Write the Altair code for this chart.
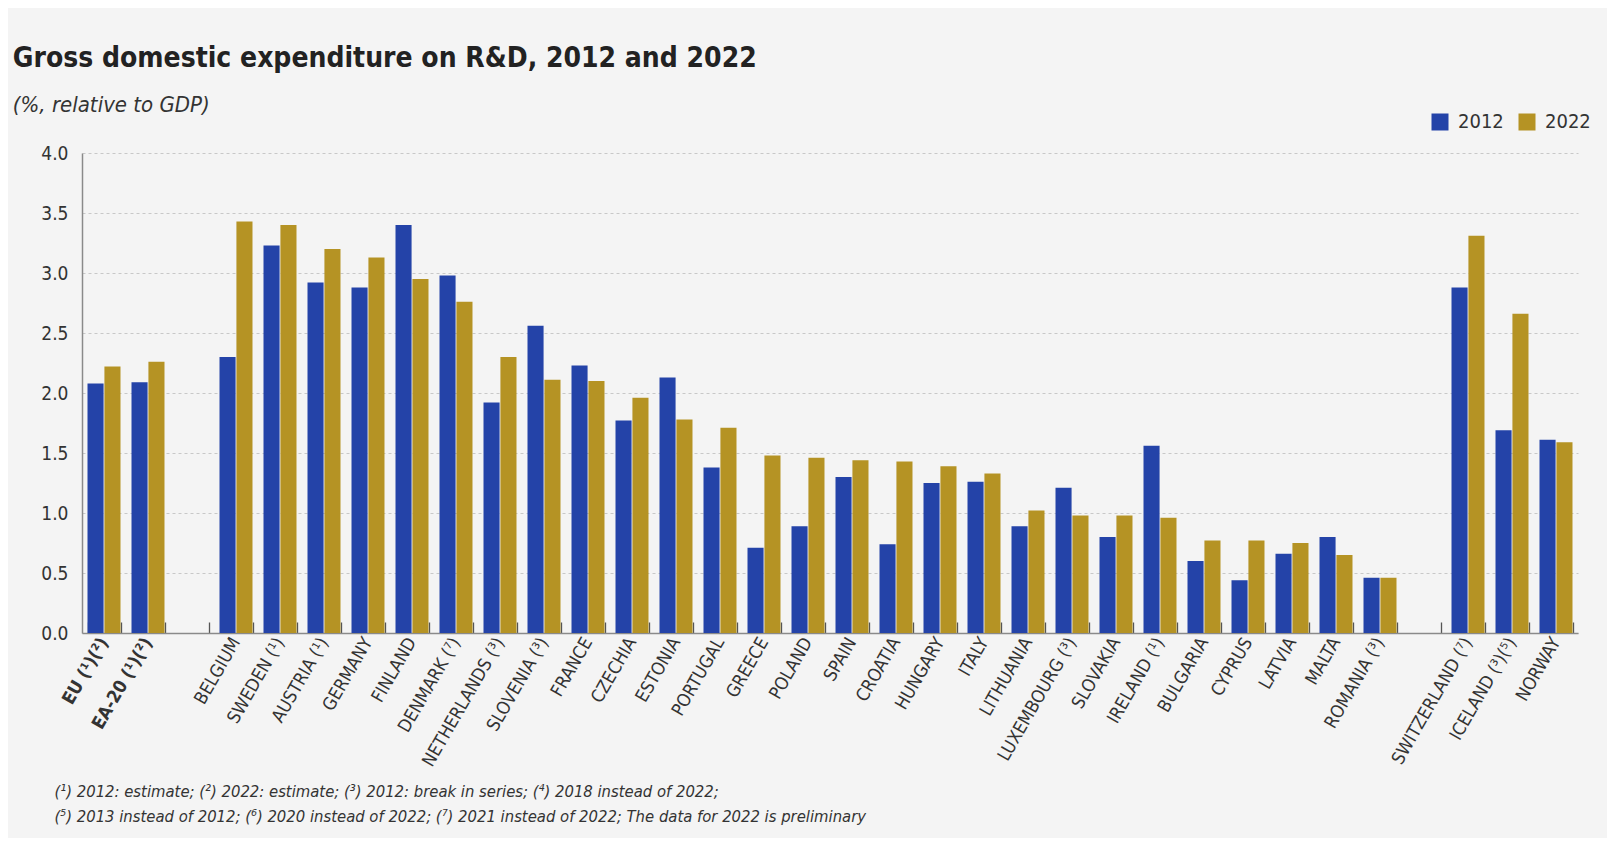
import altair as alt
import pandas as pd

countries = ["EU (¹)(²)", "EA-20 (¹)(²)", "BELGIUM", "SWEDEN (¹)", "AUSTRIA (¹)", "GERMANY",
             "FINLAND", "DENMARK (⁷)", "NETHERLANDS (³)", "SLOVENIA (³)", "FRANCE", "CZECHIA",
             "ESTONIA", "PORTUGAL", "GREECE", "POLAND", "SPAIN", "CROATIA", "HUNGARY", "ITALY",
             "LITHUANIA", "LUXEMBOURG (³)", "SLOVAKIA", "IRELAND (¹)", "BULGARIA", "CYPRUS",
             "LATVIA", "MALTA", "ROMANIA (³)", "SWITZERLAND (⁷)", "ICELAND (³)(⁵)", "NORWAY"]
v2012 = [2.08, 2.09, 2.30, 3.23, 2.92, 2.88, 3.40, 2.98, 1.92, 2.56, 2.23, 1.77, 2.13, 1.38,
         0.71, 0.89, 1.30, 0.74, 1.25, 1.26, 0.89, 1.21, 0.80, 1.56, 0.60, 0.44, 0.66, 0.80,
         0.46, 2.88, 1.69, 1.61]
v2022 = [2.22, 2.26, 3.43, 3.40, 3.20, 3.13, 2.95, 2.76, 2.30, 2.11, 2.10, 1.96, 1.78, 1.71,
         1.48, 1.46, 1.44, 1.43, 1.39, 1.33, 1.02, 0.98, 0.98, 0.96, 0.77, 0.77, 0.75, 0.65,
         0.46, 3.31, 2.66, 1.59]
years = ["2012", "2022"]
y_ticks = [0.0, 0.5, 1.0, 1.5, 2.0, 2.5, 3.0, 3.5, 4.0]

title_text = "Gross domestic expenditure on R&D, 2012 and 2022"
subtitle_text = "(%, relative to GDP)"
footnotes = [
    "(¹) 2012: estimate; (²) 2022: estimate; (³) 2012: break in series; (⁴) 2018 instead of 2022;",
    "(⁵) 2013 instead of 2012; (⁶) 2020 instead of 2022; (⁷) 2021 instead of 2022; The data for 2022 is preliminary",
]

# x domain with empty slots between groups
domain = countries[:2] + ["gap1"] + countries[2:29] + ["gap2"] + countries[29:]

rows = []
for c, a, b in zip(countries, v2012, v2022):
    rows.append({"country": c, "year": "2012", "value": a})
    rows.append({"country": c, "year": "2022", "value": b})
df = pd.DataFrame(rows)

FONT = "DejaVu Sans Condensed, Liberation Sans Narrow, sans-serif"
BLUE = "#2443a8"
GOLD = "#b59324"

chart = alt.Chart(df).mark_bar().encode(
    x=alt.X(
        "country:N",
        sort=domain,
        scale=alt.Scale(domain=domain, paddingInner=0.25, paddingOuter=0.125),
        axis=alt.Axis(
            title=footnotes,
            titleFont=FONT,
            titleFontSize=16.5,
            titleFontStyle="italic",
            titleFontWeight="normal",
            titleColor="#333333",
            titleAlign="left",
            titleAnchor="start",
            titleBaseline="top",
            titleX=-28,
            titleY=150,
            titleLineHeight=25,
            labelExpr="indexof(datum.label, 'gap') == 0 ? '' : datum.label",
            labelAngle=-60,
            labelFont=FONT,
            labelFontSize=18,
            labelColor="#333333",
            labelPadding=6,
            labelFontWeight=alt.condition("test(/^(EU|EA-20) /, datum.label)", alt.value("bold"), alt.value("normal")),
            ticks=False,
            tickBand="extent",
            grid=True,
            gridDash=[0, 469, 11, 3000],
            gridColor="#555555",
            gridWidth=1.3,
            domainColor="#8a8a8a",
            domainWidth=1.5,
        ),
    ),
    xOffset=alt.XOffset("year:N", sort=years, scale=alt.Scale(domain=years, paddingInner=0.05)),
    y=alt.Y(
        "value:Q",
        scale=alt.Scale(domain=[0, 4]),
        axis=alt.Axis(
            title=None,
            values=y_ticks,
            format=".1f",
            labelFont=FONT,
            labelFontSize=19,
            labelColor="#333333",
            labelPadding=14,
            ticks=False,
            grid=True,
            gridDash=[3, 3],
            gridColor="#c8c8c8",
            domainColor="#8a8a8a",
            domainWidth=1.5,
        ),
    ),
    color=alt.Color(
        "year:N",
        scale=alt.Scale(domain=years, range=[BLUE, GOLD]),
        legend=alt.Legend(
            title=None,
            orient="none",
            legendX=1348,
            legendY=-41,
            direction="horizontal",
            symbolType="square",
            symbolSize=289,
            symbolStrokeWidth=0,
            labelFont=FONT,
            labelFontSize=20,
            labelColor="#333333",
            labelOffset=8,
            columnPadding=13,
        ),
    ),
).properties(
    width=1496,
    height=480,
    autosize=alt.AutoSizeParams(type="none"),
    padding={"left": 74, "top": 145, "right": 29, "bottom": 205},
    background="#f4f4f4",
    title=alt.TitleParams(
        text=title_text,
        subtitle=subtitle_text,
        anchor="start",
        dx=-28,
        offset=-4,
        font=FONT,
        fontSize=28,
        fontWeight="bold",
        color="#222222",
        subtitleFont=FONT,
        subtitleFontSize=22,
        subtitleFontStyle="italic",
        subtitleColor="#333333",
        subtitlePadding=22,
    ),
).configure_view(stroke=None)

chart.save("out.html", embed_options={"renderer": "svg", "actions": False})
